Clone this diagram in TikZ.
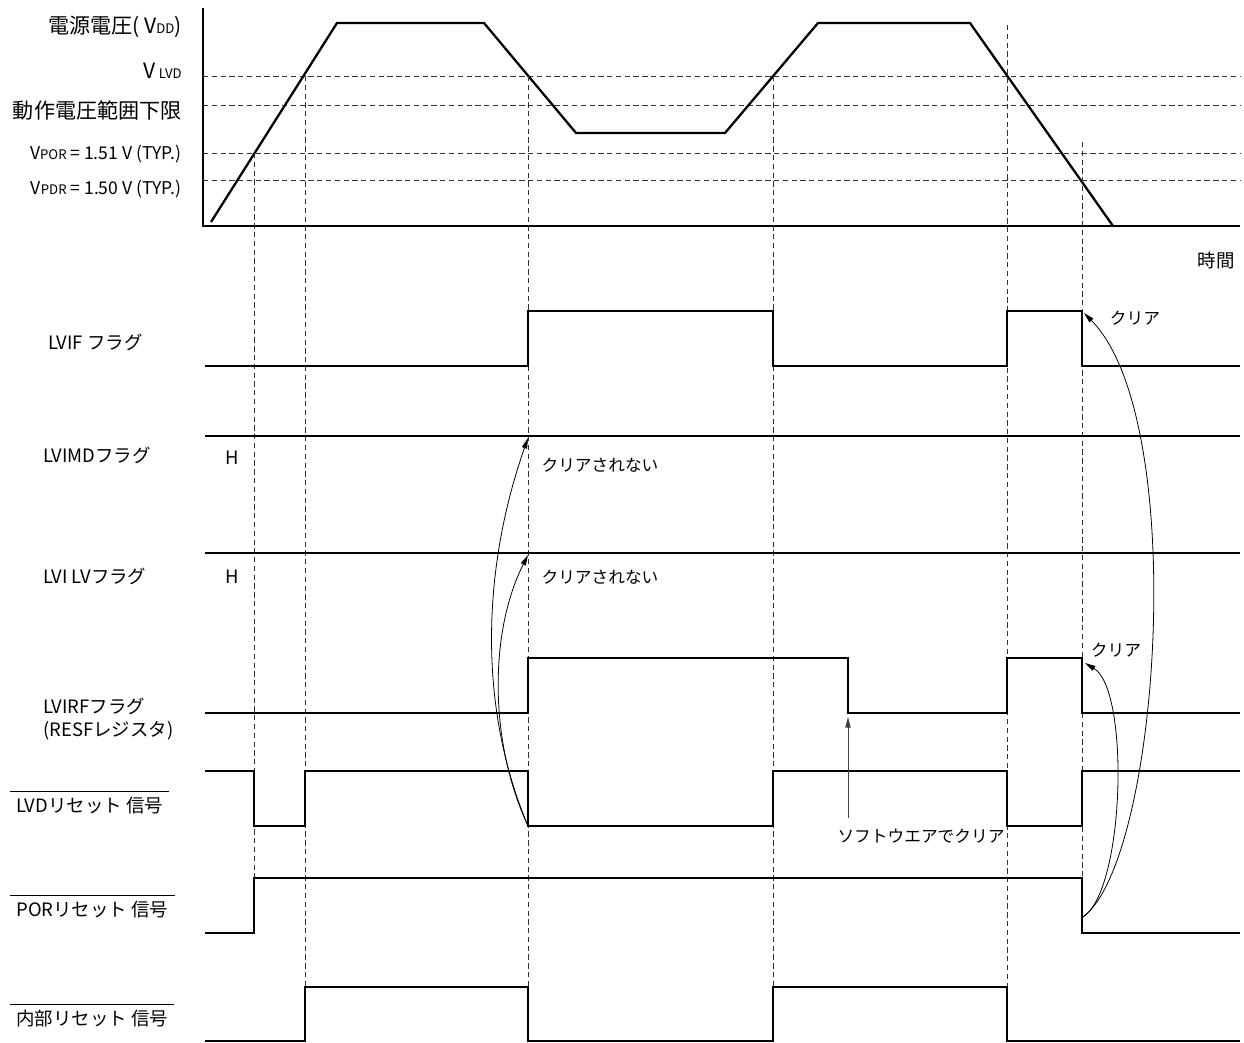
\documentclass[tikz,border=0pt]{standalone}
\usepackage{fontspec}
\setmainfont{Noto Sans CJK JP}
\usepackage{tikz}
\usetikzlibrary{arrows.meta}

\newcommand{\vsub}[1]{{\fontsize{7.5}{8}\selectfont #1}}

\begin{document}
\begin{tikzpicture}[x=0.02cm, y=-0.02cm,
    sig/.style={line width=1.3pt},
    guide/.style={black!80, line width=0.5pt, dash pattern=on 3pt off 2pt},
    clr/.style={line width=0.45pt, -{Triangle[length=6pt, width=3pt]}},
    vlbl/.style={anchor=east, inner sep=0pt, font=\fontsize{12}{14}\selectfont},
    slbl/.style={anchor=west, inner sep=0pt, align=left, font=\fontsize{10.5}{13}\selectfont},
    note/.style={inner sep=0pt, font=\fontsize{9.5}{11}\selectfont}]
    \useasboundingbox (0,0) rectangle (1244,1043);

    % voltage axis and levels
    \draw[sig] (203,8) -- (203,226) -- (1240,226);
    \foreach \y in {76,105,153,180} {
        \draw[guide] (203,\y) -- (1240,\y);
    }
    \draw[sig] (211,222) -- (337,23) -- (484,23) -- (576,133) -- (725,133) -- (818,23) -- (970,23) -- (1113,226);

    \node[vlbl] (vdd) at (182,27) {電源電圧( V\vsub{DD})};
    \node[vlbl] (vlvd) at (182,71) {V\,\vsub{LVD}};
    \node[vlbl] (vmin) at (182,110) {動作電圧範囲下限};
    \node[vlbl, font=\fontsize{10}{12}\selectfont] (vpor) at (182,154) {V\vsub{POR} = 1.51 V (TYP.)};
    \node[vlbl, font=\fontsize{10}{12}\selectfont] (vpdr) at (182,189) {V\vsub{PDR} = 1.50 V (TYP.)};
    \node[note, font=\fontsize{10.5}{12}\selectfont] (time) at (1216,260) {時間};

    % event guides
    \draw[guide] (254,153) -- (254,878);
    \draw[guide] (305,76) -- (305,987);
    \draw[guide] (528,76) -- (528,987);
    \draw[guide] (773,76) -- (773,987);
    \draw[guide] (1007,25) -- (1007,987);
    \draw[guide] (1082,142) -- (1082,878);

    % signals
    \draw[sig] (205,366) -- (528,366) -- (528,311) -- (773,311) -- (773,366) -- (1007,366) -- (1007,311) -- (1082,311) -- (1082,366) -- (1240,366);
    \draw[sig] (205,436) -- (1240,436);
    \draw[sig] (205,553) -- (1240,553);
    \draw[sig] (205,713) -- (528,713) -- (528,658) -- (848,658) -- (848,713) -- (1007,713) -- (1007,658) -- (1082,658) -- (1082,713) -- (1240,713);
    \draw[sig] (205,771) -- (254,771) -- (254,826) -- (305,826) -- (305,771) -- (528,771) -- (528,826) -- (773,826) -- (773,771) -- (1007,771) -- (1007,826) -- (1082,826) -- (1082,771) -- (1240,771);
    \draw[sig] (205,933) -- (254,933) -- (254,878) -- (1082,878) -- (1082,933) -- (1240,933);
    \draw[sig] (205,1041) -- (305,1041) -- (305,987) -- (528,987) -- (528,1041) -- (773,1041) -- (773,987) -- (1007,987) -- (1007,1041) -- (1240,1041);

    \node[slbl] (lvif) at (48,342) {LVIF フラグ};
    \node[slbl] (lvimd) at (43,455) {LVIMDフラグ};
    \node[slbl] (lvilv) at (43,576) {LVI LVフラグ};
    \node[slbl] (lvirf) at (43,719) {LVIRFフラグ\\(RESFレジスタ)};
    \node[slbl] (lvdrst) at (16,806) {LVDリセット 信号};
    \node[slbl] (porrst) at (16,910) {PORリセット 信号};
    \node[slbl] (intrst) at (16,1019) {内部リセット 信号};
    \foreach \n in {lvdrst,porrst,intrst} {
        \draw[line width=0.5pt] ([shift={(-6,-6)}]\n.north west) -- ([shift={(6,-6)}]\n.north east);
    }
    \node[slbl] (hmd) at (225,458) {H};
    \node[slbl] (hlv) at (225,577) {H};

    % notes
    \node[note] (keep1) at (600,465) {クリアされない};
    \node[note] (keep2) at (600,577) {クリアされない};
    \node[note] (clr1) at (1135,318) {クリア};
    \node[note] (clr2) at (1116,650) {クリア};
    \node[note] (swclr) at (921,836) {ソフトウエアでクリア};

    \coordinate (lvdfall) at (528,826);
    \coordinate (lvimdpt) at (528,438);
    \coordinate (lvilvpt) at (528,555);
    \coordinate (porfall) at (1083,917);
    \coordinate (lvifpt) at (1084,313);
    \coordinate (lvirfpt) at (1085,663);
    \coordinate (swtail) at (848,818);
    \coordinate (lvirfsw) at (848,717);

    \draw[clr] (lvdfall) .. controls (475,700) and (485,560) .. (lvimdpt);
    \draw[clr] (lvdfall) .. controls (488,740) and (490,630) .. (lvilvpt);
    \draw[clr] (porfall) .. controls (1160,860) and (1190,420) .. (lvifpt);
    \draw[clr] (porfall) .. controls (1125,890) and (1130,690) .. (lvirfpt);
    \draw[clr, black!75] (swtail) -- (lvirfsw);
\end{tikzpicture}
\end{document}
